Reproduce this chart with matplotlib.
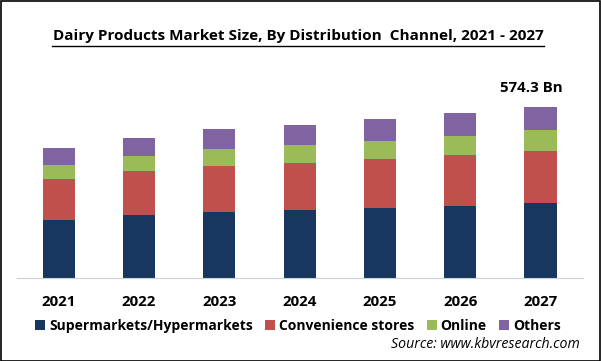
import numpy as np
import matplotlib.pyplot as plt

years = ['2021', '2022', '2023', '2024', '2025', '2026', '2027']
supermarkets = [193.5, 210.0, 221.0, 228.0, 235.7, 242.4, 250.5]
convenience = [137.5, 147.5, 154.0, 157.6, 163.3, 170.0, 176.7]
online = [48.0, 51.3, 57.0, 60.4, 61.4, 64.7, 69.4]
others = [57.0, 60.4, 67.0, 67.0, 72.8, 77.0, 77.7]
series = ['Supermarkets/Hypermarkets', 'Convenience stores', 'Online', 'Others']
colors = ['#17375e', '#c0504d', '#9bbb59', '#8064a2']

W, H = 601, 361
fig = plt.figure(figsize=(W / 100, H / 100), dpi=100)
fam = ['Open Sans', 'DejaVu Sans']

ax = fig.add_axes([17 / W, (H - 278) / H, (583 - 17) / W, (278 - 70) / H])
x = np.arange(len(years))
bottom = np.zeros(len(years))
for vals, c, name in zip([supermarkets, convenience, online, others], colors, series):
    ax.bar(x, vals, 0.4, bottom=bottom, color=c, label=name)
    bottom += np.array(vals)

ax.set_xlim(-0.52, 6.53)
ax.set_ylim(0, (278 - 70) * 3.353)
for s in ['top', 'right', 'left']:
    ax.spines[s].set_visible(False)
ax.spines['bottom'].set_color('#d0d0d0')
ax.set_yticks([])
ax.set_xticks(x)
ax.set_xticklabels(years, fontsize=10.8, fontweight='bold', family=fam)
ax.tick_params(axis='x', length=0, pad=12)

ax.text(5.88, bottom[-1] + 40, '574.3 Bn', ha='center', va='bottom',
        fontsize=10.8, fontweight='bold', family=fam)

fig.text(298 / W, 1 - 36 / H, 'Dairy Products Market Size, By Distribution  Channel, 2021 - 2027',
         ha='center', va='center', fontsize=11, fontweight='bold', family=fam)
fig.add_artist(plt.Line2D([52 / W, 544 / W], [1 - 45.5 / H, 1 - 45.5 / H], color='black', lw=1))

fig.legend(loc='center', bbox_to_anchor=(298 / W, 1 - 326 / H), ncol=4, frameon=False,
           prop={'family': fam, 'size': 10, 'weight': 'bold'}, handlelength=0.7,
           handleheight=0.7, handletextpad=0.3, columnspacing=0.9)

fig.text(580 / W, 1 - 345 / H, 'Source: www.kbvresearch.com', ha='right', va='center',
         fontsize=10.2, style='italic', family=fam)

fig.add_artist(plt.Rectangle((0.5 / W, 0.5 / H), 1 - 1.5 / W, 1 - 1.5 / H, fill=False,
                             edgecolor='black', lw=1.2, transform=fig.transFigure))

fig.savefig('out.png', dpi=100)
